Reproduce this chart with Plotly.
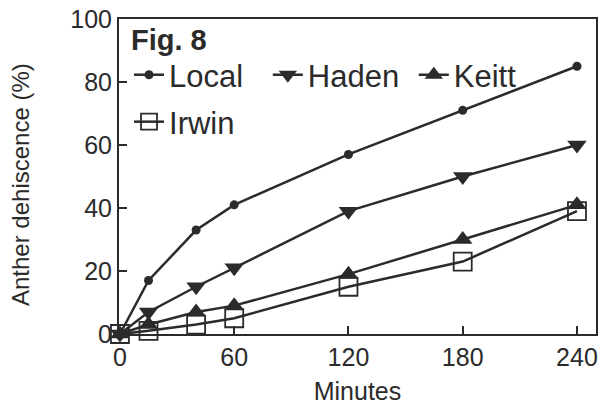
import plotly.graph_objects as go

minutes = [0, 15, 40, 60, 120, 180, 240]
local = [0, 17, 33, 41, 57, 71, 85]
haden = [0, 7, 15, 21, 39, 50, 60]
keitt = [0, 3, 7, 9, 19, 30, 41]
irwin = [0, 1, 3, 5, 15, 23, 39]
x_ticks = [0, 60, 120, 180, 240]
y_ticks = [0, 20, 40, 60, 80, 100]

ink = "#2b2b2b"
FONT = "Liberation Sans, Arial, sans-serif"

fig = go.Figure()
fig.add_trace(go.Scatter(x=minutes, y=local, name="Local", mode="lines+markers",
                         line=dict(color=ink, width=2.5),
                         marker=dict(symbol="circle", size=9, color=ink),
                         cliponaxis=False, legend="legend", showlegend=True))
fig.add_trace(go.Scatter(x=minutes, y=haden, name="Haden", mode="lines+markers",
                         line=dict(color=ink, width=2.5),
                         marker=dict(symbol="triangle-down", size=17, color=ink),
                         cliponaxis=False, legend="legend2", showlegend=True))
fig.add_trace(go.Scatter(x=minutes, y=keitt, name="Keitt", mode="lines+markers",
                         line=dict(color=ink, width=2.5),
                         marker=dict(symbol="triangle-up", size=17, color=ink),
                         cliponaxis=False, legend="legend3", showlegend=True))
fig.add_trace(go.Scatter(x=minutes, y=irwin, name="Irwin", mode="lines+markers",
                         line=dict(color=ink, width=2.5),
                         marker=dict(symbol="square-open", size=18, color=ink,
                                     line=dict(width=1.8, color=ink)),
                         cliponaxis=False, legend="legend4", showlegend=True))

axis_common = dict(showline=True, linecolor=ink, linewidth=2, mirror=True,
                   ticks="inside", ticklen=8, tickwidth=2, tickcolor=ink,
                   showgrid=False, zeroline=False, automargin=False,
                   tickfont=dict(family=FONT, size=25, color=ink))

fig.update_xaxes(range=[-0.5, 250], tickvals=x_ticks,
                 title=dict(text="Minutes", font=dict(family=FONT, size=25, color=ink), standoff=12),
                 **axis_common)
fig.update_yaxes(range=[0, 100], tickvals=y_ticks, **axis_common)

fig.add_annotation(text="Anther dehiscence (%)", xref="paper", yref="paper",
                   x=-0.2075, y=0.473, xanchor="center", yanchor="middle",
                   textangle=-90, showarrow=False,
                   font=dict(family=FONT, size=24, color=ink))

fig.add_annotation(text="<b>Fig. 8</b>", xref="paper", yref="paper",
                   x=0.02, y=0.933, xanchor="left", yanchor="middle", showarrow=False,
                   font=dict(family=FONT, size=29, color=ink))

legend_style = dict(orientation="h", xanchor="left", yanchor="middle",
                    bgcolor="rgba(0,0,0,0)", font=dict(family=FONT, size=31, color=ink),
                    itemwidth=30, visible=True)

fig.update_layout(
    width=608, height=408,
    margin=dict(l=119, r=12, t=19, b=74),
    paper_bgcolor="white", plot_bgcolor="white",
    font=dict(family=FONT, color=ink),
    showlegend=True,
    legend=dict(x=0.021, y=0.822, **legend_style),
    legend2=dict(x=0.312, y=0.822, **legend_style),
    legend3=dict(x=0.618, y=0.822, **legend_style),
    legend4=dict(x=0.021, y=0.673, **legend_style),
)

fig.write_html("out.html", config={"displayModeBar": False},
               post_script="document.body.style.margin='0';")
